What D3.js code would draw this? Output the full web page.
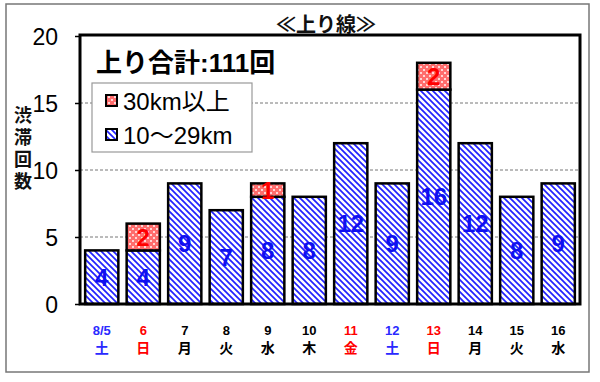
<!DOCTYPE html>
<html><head><meta charset="utf-8">
<script src="https://cdn.jsdelivr.net/npm/d3@7"></script>
<style>
html,body{margin:0;padding:0;background:#fff;}
svg{display:block;font-family:"Liberation Sans","Noto Sans CJK JP",sans-serif;}
</style></head>
<body><svg id="c" width="600" height="382"></svg>
<script>
const dates = ["8/5","6","7","8","9","10","11","12","13","14","15","16"];
const days  = ["土","日","月","火","水","木","金","土","日","月","火","水"];
const dayColors = ["#2a2aff","#ff0000","#000","#000","#000","#000","#ff0000","#2a2aff","#ff0000","#000","#000","#000"];
const short10to29 = [4,4,9,7,8,8,12,9,16,12,8,9];
const long30plus  = [0,2,0,0,1,0,0,0,2,0,0,0];
const yTicks = [0,5,10,15,20];
const seriesNames = ["30km以上","10～29km"];
const chartTitle = "≪上り線≫";
const totalLabel = "上り合計:111回";
const yTitle = ["渋","滞","回","数"];

const svg = d3.select("#c");
const defs = svg.append("defs");
// blue diagonal stripes
const pb = defs.append("pattern").attr("id","stripe").attr("patternUnits","userSpaceOnUse")
  .attr("width",6).attr("height",6);
pb.append("rect").attr("width",6).attr("height",6).attr("fill","#fff");
pb.append("path").attr("d","M0,0L6,6M-1,5L1,7M5,-1L7,1").attr("stroke","#2222ff").attr("stroke-width",1.7);
// red checker (larger cells)
const pr = defs.append("pattern").attr("id","redcheck").attr("patternUnits","userSpaceOnUse")
  .attr("width",6).attr("height",6);
pr.append("rect").attr("width",6).attr("height",6).attr("fill","#ff6d6d");
pr.append("rect").attr("x",0).attr("y",0).attr("width",2).attr("height",2).attr("fill","#ffd6d6");
pr.append("rect").attr("x",3).attr("y",3).attr("width",2).attr("height",2).attr("fill","#ffd6d6");

// outer border
svg.append("rect").attr("x",6).attr("y",4).attr("width",583).attr("height",368)
  .attr("fill","#fff").attr("stroke","#777").attr("stroke-width",1.5);

const L=80,R=580,T=36,B=304;
const x = d3.scaleBand().domain(d3.range(dates.length)).range([L+1,R-1]).paddingInner(0.2).paddingOuter(0.1);
const y = d3.scaleLinear().domain([0,20]).range([B,T]);

// gridlines
svg.append("g").selectAll("line").data(yTicks.filter(v=>v>0&&v<20)).join("line")
  .attr("x1",L).attr("x2",R).attr("y1",d=>y(d)).attr("y2",d=>y(d))
  .attr("stroke","#777").attr("stroke-width",1).attr("stroke-dasharray","3,2");

// y axis
const ya = svg.append("g").attr("transform",`translate(${L},0)`)
  .call(d3.axisLeft(y).tickValues(yTicks).tickSize(5).tickPadding(17));
ya.select(".domain").remove();
ya.selectAll("line").attr("stroke","#000").attr("stroke-width",1.5);
ya.selectAll("text").attr("font-size",23).attr("fill","#000").attr("dy","0.36em");

// bars
const g = svg.append("g");
dates.forEach((d,i)=>{
  const b = short10to29[i], t = long30plus[i];
  g.append("rect").attr("x",x(i)).attr("width",x.bandwidth())
    .attr("y",y(b)).attr("height",y(0)-y(b))
    .attr("fill","url(#stripe)").attr("stroke","#000").attr("stroke-width",2.5);
  if(t>0){
    g.append("rect").attr("x",x(i)).attr("width",x.bandwidth())
      .attr("y",y(b+t)).attr("height",y(b)-y(b+t))
      .attr("fill","url(#redcheck)").attr("stroke","#000").attr("stroke-width",2.5);
  }
});
// labels
dates.forEach((d,i)=>{
  const b = short10to29[i], t = long30plus[i];
  g.append("text").attr("x",x(i)+x.bandwidth()/2).attr("y",y(b/2)).attr("dy","0.36em")
    .attr("text-anchor","middle").attr("font-size",24).attr("font-weight","bold")
    .attr("fill","#1010f0").text(b);
  if(t>0){
    g.append("text").attr("x",x(i)+x.bandwidth()/2).attr("y",y(b+t/2)).attr("dy","0.36em")
      .attr("text-anchor","middle").attr("font-size",24).attr("font-weight","bold")
      .attr("fill","#ff0000").text(t);
  }
});

// frame
svg.append("rect").attr("x",L).attr("y",T-1).attr("width",R-L).attr("height",B-T+1)
  .attr("fill","none").attr("stroke","#000").attr("stroke-width",3);

// x labels
const xl = svg.append("g");
dates.forEach((d,i)=>{
  const cx = x(i)+x.bandwidth()/2;
  xl.append("text").attr("x",cx).attr("y",335).attr("text-anchor","middle")
    .attr("font-size",13).attr("font-weight","bold").attr("fill",dayColors[i]).text(d);
  xl.append("text").attr("x",cx).attr("y",353).attr("text-anchor","middle")
    .attr("font-size",14).attr("font-weight","bold").attr("fill",dayColors[i]).text(days[i]);
});

// title
svg.append("text").attr("x",326).attr("y",32).attr("text-anchor","middle")
  .attr("font-size",20).attr("font-weight","bold").attr("fill","#111").text(chartTitle);

// total label
svg.append("text").attr("x",96).attr("y",72).attr("font-size",26).attr("font-weight","bold")
  .attr("fill","#000").text(totalLabel);

// legend
const lg = svg.append("g");
lg.append("rect").attr("x",92).attr("y",83).attr("width",160).attr("height",69)
  .attr("fill","#fff").attr("stroke","#999").attr("stroke-width",1.2);
const fills = ["url(#redcheck)","url(#stripe)"];
seriesNames.forEach((n,i)=>{
  const cy = 101 + i*34;
  lg.append("rect").attr("x",106).attr("y",cy-6).attr("width",11).attr("height",11)
    .attr("fill",fills[i]).attr("stroke","#000").attr("stroke-width",2);
  lg.append("text").attr("x",123).attr("y",cy).attr("dy","0.36em").attr("font-size",24)
    .attr("fill","#000").text(n);
});

// y title
yTitle.forEach((c,i)=>{
  svg.append("text").attr("x",23).attr("y",116+i*22).attr("dy","0.36em").attr("text-anchor","middle")
    .attr("font-size",18).attr("font-weight","bold").attr("fill","#111").text(c);
});
</script></body></html>
